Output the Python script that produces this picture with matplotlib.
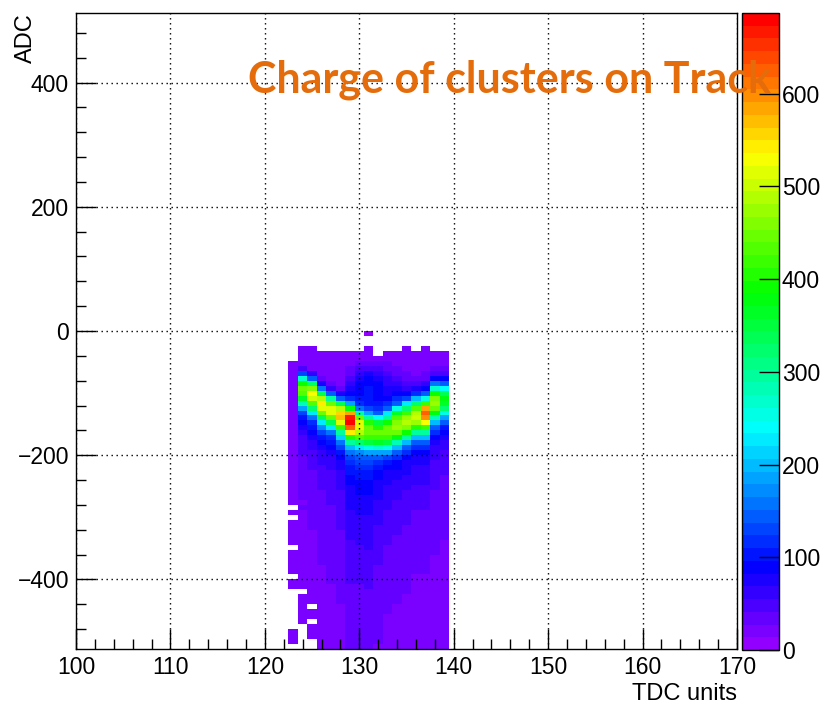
import colorsys
import numpy as np
import matplotlib
matplotlib.use("Agg")
import matplotlib.pyplot as plt
from matplotlib.colors import ListedColormap, Normalize
from matplotlib.ticker import MultipleLocator

# TDC bins (centres) and per-column ADC contents, rows of 8 ADC counts from 0 down to -512
tdc_bins = [123, 124, 125, 126, 127, 128, 129, 130, 131, 132, 133, 134, 135, 136, 137, 138, 139]

c123 = [0, 0, 0, 0, 0, 0, 18, 20, 22, 24, 25, 26, 27, 27, 26, 25,
        25, 24, 24, 23, 23, 22, 22, 21, 21, 20, 21, 20, 20, 19, 20, 19,
        19, 18, 19, 0, 18, 0, 17, 18, 17, 17, 16, 0, 16, 17, 16, 15,
        16, 0, 15, 16, 0, 0, 0, 0, 0, 0, 0, 0, 15, 14, 15, 0]
c124 = [0, 0, 0, 14, 16, 18, 22, 54, 126, 270, 396, 450, 428, 369, 279, 189,
        135, 104, 85, 70, 60, 53, 48, 45, 42, 40, 38, 36, 34, 32, 31, 30,
        29, 28, 27, 28, 26, 25, 26, 24, 25, 23, 24, 22, 23, 21, 22, 20,
        21, 20, 19, 20, 0, 18, 17, 18, 16, 17, 16, 0, 0, 0, 0, 0]
c125 = [0, 0, 0, 15, 17, 18, 20, 26, 64, 148, 318, 466, 530, 503, 435, 329,
        223, 159, 122, 100, 85, 72, 64, 56, 52, 48, 45, 42, 40, 38, 36, 34,
        33, 32, 31, 30, 30, 29, 28, 28, 27, 26, 26, 25, 25, 24, 24, 23,
        22, 22, 21, 21, 20, 19, 20, 0, 19, 18, 0, 18, 17, 18, 0, 0]
c126 = [0, 0, 0, 0, 16, 17, 18, 19, 22, 35, 70, 160, 340, 490, 545, 515,
        450, 340, 230, 165, 128, 105, 90, 78, 68, 62, 57, 53, 50, 47, 45, 43,
        41, 40, 38, 37, 36, 35, 34, 33, 32, 31, 30, 30, 29, 28, 28, 27,
        26, 26, 25, 25, 24, 24, 23, 23, 22, 22, 21, 21, 20, 20, 19, 19]
c127 = [0, 0, 0, 0, 17, 18, 19, 20, 21, 23, 28, 60, 140, 300, 450, 520,
        510, 440, 330, 225, 160, 122, 98, 84, 72, 66, 61, 57, 54, 51, 49, 47,
        45, 44, 42, 41, 40, 39, 38, 37, 36, 35, 34, 33, 32, 31, 30, 30,
        29, 28, 28, 27, 26, 26, 25, 25, 24, 24, 23, 23, 22, 22, 21, 21]
c128 = [0, 0, 0, 0, 18, 19, 20, 21, 22, 24, 27, 35, 70, 150, 330, 490,
        560, 570, 520, 420, 300, 210, 155, 125, 104, 88, 78, 71, 66, 62, 58, 55,
        52, 50, 48, 47, 45, 44, 43, 42, 40, 39, 38, 37, 36, 35, 34, 33,
        32, 31, 30, 30, 29, 28, 28, 27, 26, 26, 25, 25, 24, 24, 23, 23]
c129 = [0, 0, 0, 0, 18, 19, 20, 28, 40, 50, 60, 70, 85, 110, 190, 380,
        580, 660, 675, 620, 540, 410, 290, 205, 160, 132, 115, 106, 98, 92, 87, 82,
        78, 75, 72, 69, 66, 64, 62, 60, 58, 56, 54, 52, 50, 49, 47, 46,
        44, 43, 42, 41, 40, 39, 38, 37, 36, 35, 34, 33, 32, 32, 31, 30]
c130 = [0, 0, 0, 0, 19, 20, 30, 45, 60, 75, 85, 90, 95, 100, 110, 160,
        300, 450, 510, 520, 490, 430, 320, 220, 165, 138, 125, 115, 106, 99, 93, 88,
        84, 80, 76, 73, 70, 67, 64, 62, 60, 58, 56, 54, 52, 50, 48, 47,
        45, 44, 43, 41, 40, 39, 38, 37, 36, 35, 34, 33, 32, 31, 30, 30]
c131 = [8, 0, 0, 15, 20, 25, 35, 50, 70, 85, 95, 100, 100, 100, 105, 125,
        190, 300, 400, 445, 450, 420, 350, 260, 190, 150, 130, 116, 107, 100, 94, 89,
        85, 81, 77, 74, 71, 68, 65, 63, 61, 59, 57, 55, 53, 51, 49, 48,
        46, 45, 44, 42, 41, 40, 39, 38, 37, 36, 35, 34, 33, 32, 31, 30]
c132 = [0, 0, 0, 0, 0, 20, 30, 45, 60, 75, 85, 90, 95, 95, 100, 115,
        150, 240, 350, 410, 440, 420, 360, 270, 190, 140, 115, 100, 92, 86, 80, 76,
        72, 69, 66, 63, 60, 58, 56, 54, 52, 50, 48, 47, 45, 44, 42, 41,
        40, 39, 38, 37, 36, 35, 34, 33, 32, 31, 30, 30, 29, 28, 28, 27]
c133 = [0, 0, 0, 0, 18, 20, 28, 35, 45, 55, 65, 75, 80, 90, 110, 150,
        220, 300, 390, 440, 450, 420, 350, 260, 185, 135, 108, 90, 82, 76, 71, 67,
        63, 60, 57, 55, 53, 51, 49, 47, 45, 44, 42, 41, 40, 38, 37, 36,
        35, 34, 33, 32, 31, 30, 30, 29, 28, 27, 27, 26, 25, 25, 24, 24]
c134 = [0, 0, 0, 0, 17, 19, 22, 28, 35, 45, 55, 70, 90, 110, 150, 260,
        370, 430, 465, 470, 445, 380, 280, 195, 140, 110, 92, 83, 76, 70, 65, 61,
        58, 55, 53, 51, 49, 47, 45, 43, 42, 40, 39, 38, 37, 36, 35, 34,
        33, 32, 31, 30, 30, 29, 28, 27, 27, 26, 25, 25, 24, 24, 23, 23]
c135 = [0, 0, 0, 15, 17, 18, 20, 23, 28, 35, 45, 60, 85, 130, 220, 320,
        420, 480, 490, 460, 390, 290, 200, 145, 112, 92, 82, 75, 69, 64, 60, 57,
        54, 52, 50, 48, 46, 44, 42, 41, 40, 38, 37, 36, 35, 34, 33, 32,
        31, 30, 29, 28, 28, 27, 26, 26, 25, 24, 24, 23, 23, 22, 22, 21]
c136 = [0, 0, 0, 0, 16, 17, 19, 21, 25, 32, 45, 70, 120, 200, 320, 430,
        490, 500, 470, 400, 300, 205, 150, 115, 92, 82, 74, 68, 63, 59, 55, 52,
        49, 47, 45, 43, 41, 40, 38, 37, 36, 35, 34, 33, 32, 31, 30, 29,
        28, 27, 27, 26, 25, 25, 24, 23, 23, 22, 22, 21, 21, 20, 20, 19]
c137 = [0, 0, 0, 15, 16, 17, 19, 22, 28, 38, 55, 90, 150, 260, 420, 590,
        625, 600, 530, 420, 300, 205, 150, 115, 92, 82, 74, 68, 63, 59, 55, 52,
        49, 47, 45, 43, 41, 40, 38, 37, 36, 35, 34, 33, 32, 31, 30, 29,
        28, 27, 27, 26, 25, 25, 24, 23, 23, 22, 22, 21, 21, 20, 20, 19]
c138 = [0, 0, 0, 0, 16, 18, 22, 30, 48, 90, 160, 270, 390, 455, 470, 440,
        380, 285, 200, 145, 112, 92, 75, 68, 63, 58, 54, 51, 48, 46, 44, 42,
        40, 38, 37, 36, 35, 34, 33, 32, 31, 30, 29, 28, 28, 27, 26, 26,
        25, 24, 24, 23, 23, 22, 22, 21, 21, 20, 20, 19, 19, 18, 18, 17]
c139 = [0, 0, 0, 0, 15, 17, 20, 28, 45, 85, 145, 240, 335, 380, 360, 320,
        260, 190, 140, 108, 88, 75, 62, 57, 53, 50, 47, 45, 43, 41, 39, 37,
        36, 35, 34, 33, 32, 31, 30, 29, 28, 28, 27, 26, 26, 25, 24, 24,
        23, 23, 22, 22, 21, 21, 20, 20, 19, 19, 18, 18, 17, 17, 16, 16]

columns = [c123, c124, c125, c126, c127, c128, c129, c130, c131,
           c132, c133, c134, c135, c136, c137, c138, c139]

adc_bin_width = 8
adc_top, adc_bottom = 0, -512
z_max = 687

x_ticks = [100, 110, 120, 130, 140, 150, 160, 170]
y_ticks = [-400, -200, 0, 200, 400]
z_ticks = [0, 100, 200, 300, 400, 500, 600]

title_text = "Charge of clusters on Track"
x_title = "TDC units"
y_title = "ADC"

# ROOT "pretty" palette: 50 hues from violet down to red
palette = []
for i in range(50):
    hue = 280.0 - (i + 1) * (280.0 / 50)
    palette.append(colorsys.hls_to_rgb(hue / 360.0, 0.5, 1.0))
cmap = ListedColormap(palette)
cmap.set_bad((1, 1, 1, 0))

counts = np.array(columns, dtype=float).T            # shape (rows, tdc)
counts = np.ma.masked_where(counts <= 0, counts)
x_edges = np.append(np.array(tdc_bins) - 0.5, tdc_bins[-1] + 0.5)
y_edges = np.arange(adc_top, adc_bottom - 1, -adc_bin_width)

W, H = 833, 704
fig = plt.figure(figsize=(W / 100, H / 100), dpi=100)
fig.patch.set_facecolor("white")

ax = fig.add_axes([76 / W, 1 - 649 / H, 661 / W, 636 / H])
mesh = ax.pcolormesh(x_edges, y_edges, counts, cmap=cmap,
                     norm=Normalize(0, z_max), shading="flat", zorder=1)

ax.set_xlim(100, 170)
ax.set_ylim(-512, 512)

label_family = ["Liberation Sans", "DejaVu Sans"]
label_size = 16.5

ax.set_xticks(x_ticks)
ax.set_yticks(y_ticks)
ax.xaxis.set_minor_locator(MultipleLocator(2))
ax.yaxis.set_minor_locator(MultipleLocator(40))
ax.tick_params(which="both", direction="in", top=False, right=False,
               color="black", width=1.0)
ax.tick_params(which="major", length=14.5, pad=5)
ax.tick_params(which="minor", length=7.2)
for lab in ax.get_xticklabels() + ax.get_yticklabels():
    lab.set_fontfamily(label_family)
    lab.set_fontsize(label_size)

for s in ax.spines.values():
    s.set_linewidth(1.0)
    s.set_color("black")

ax.set_axisbelow(False)
ax.grid(True, which="major", color="black", linestyle=(0, (1.0, 2.6)),
        linewidth=1.0, zorder=3)

fig.text(737 / W, 1 - 700 / H, x_title, ha="right", va="baseline",
         fontfamily=label_family, fontsize=17)
fig.text(26 / W, 1 - 13 / H, y_title, rotation=90, ha="center", va="top",
         fontfamily=label_family, fontsize=17)

# palette axis
cax = fig.add_axes([742 / W, 1 - 650 / H, 37 / W, 637 / H])
cb = fig.colorbar(mesh, cax=cax, ticks=z_ticks)
cb.outline.set_linewidth(1.0)
cax.tick_params(direction="in", length=14.5, width=1.0, pad=2,
                labelsize=label_size, right=True, left=False)
cax.minorticks_off()
for lab in cax.get_yticklabels():
    lab.set_fontfamily(label_family)

# overlaid title
fig.text(248 / W, 1 - 93 / H, title_text, ha="left", va="baseline",
         fontfamily=["Lato", "DejaVu Sans"], fontweight="bold",
         fontsize=31, color="#E46C0A", zorder=10)

fig.savefig("out.png", dpi=100, facecolor="white")
